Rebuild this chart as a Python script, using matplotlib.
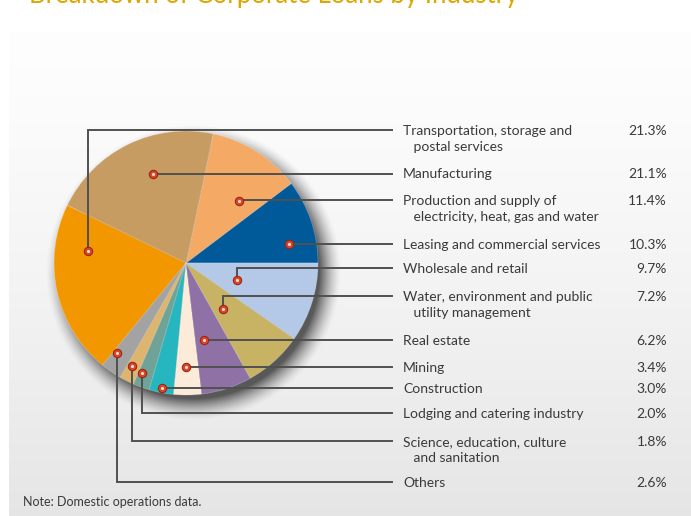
import numpy as np
import matplotlib.pyplot as plt

# chart values, listed in the order of the label column
industries = [
    "Transportation, storage and\n   postal services",
    "Manufacturing",
    "Production and supply of\n   electricity, heat, gas and water",
    "Leasing and commercial services",
    "Wholesale and retail",
    "Water, environment and public\n   utility management",
    "Real estate",
    "Mining",
    "Construction",
    "Lodging and catering industry",
    "Science, education, culture\n   and sanitation",
    "Others",
]
shares = [21.3, 21.1, 11.4, 10.3, 9.7, 7.2, 6.2, 3.4, 3.0, 2.0, 1.8, 2.6]
colors = ["#F39700", "#C69C62", "#F4A964", "#005A9A", "#B3C9E7", "#C8B365",
          "#9071A6", "#FDEBD9", "#26B6BF", "#6FA397", "#DDB56E", "#A3A3A3"]
# order of the wedges, counter-clockwise from 3 o'clock
pie_order = [3, 2, 1, 0, 11, 10, 9, 8, 7, 6, 5, 4]

title = "Breakdown of Corporate Loans by Industry"
note = "Note: Domestic operations data."

# layout (pixels)
W, H = 691, 516
cx, cy, R = 186, 263, 132
# dot placement inside each wedge: (fraction of wedge span, fraction of radius)
dot_pos = [(0.25, 0.75), (0.42, 0.72), (0.30, 0.62), (0.28, 0.79), (0.46, 0.41),
           (0.36, 0.45), (0.27, 0.60), (0.43, 0.79), (0.51, 0.96), (0.22, 0.90),
           (0.37, 0.88), (0.19, 0.86)]
row_y = [130, 173.5, 200, 244, 268, 296, 340, 367, 388, 413, 441, 482]
line_end = 392
text_x = 403
pct_x = 667
txt_col = '#3a3a3a'

plt.rcParams['font.family'] = ['Lato', 'DejaVu Sans']

fig = plt.figure(figsize=(W / 100, H / 100), dpi=100)
ax = fig.add_axes([0, 0, 1, 1])

# grey gradient panel
grad = np.linspace(0, 1, 256)[:, None]
top = np.array([0.995, 0.995, 0.995])
bot = np.array([0.90, 0.90, 0.90])
panel = top + (bot - top) * grad[..., None] ** 1.3
panel = np.repeat(panel, 2, axis=1)
ax.imshow(panel, extent=[9, W, H, 32], aspect='auto', zorder=0)

# soft drop shadow of the pie
gx, gy = np.meshgrid(np.arange(0, 360), np.arange(100, 440))
d = np.hypot(gx - (cx + 7), gy - (cy + 9))
a = np.clip((R + 16 - d) / 22, 0, 1) ** 1.5 * 0.8
shadow = np.zeros(d.shape + (4,))
shadow[..., :3] = 0.2
shadow[..., 3] = a
ax.imshow(shadow, extent=[0, 360, 440, 100], aspect='auto', zorder=1,
          interpolation='bilinear')

wedges, _ = ax.pie([shares[i] for i in pie_order],
                   colors=[colors[i] for i in pie_order],
                   center=(cx, cy), radius=R, startangle=0, counterclock=False,
                   wedgeprops=dict(edgecolor=(1, 1, 1, 0.25), linewidth=0.6))
for w in wedges:
    w.set_zorder(2)

for k, idx in enumerate(pie_order):
    w = wedges[k]
    frac, rf = dot_pos[idx]
    ang = np.deg2rad(w.theta2 - frac * (w.theta2 - w.theta1))
    dx = cx + rf * R * np.cos(ang)
    dy = cy + rf * R * np.sin(ang)
    ry = row_y[idx]
    ax.plot([dx, dx, line_end], [dy, ry, ry], color='#505050', lw=1.4,
            zorder=3, solid_joinstyle='miter')
    ax.plot(dx, dy, 'o', ms=6, mfc='#D9472B', mec='#9E2412', mew=0.8, zorder=4)
    ax.plot(dx, dy, 'o', ms=2.2, mfc='#FFE3D6', mec='none', zorder=5)

    lines = industries[idx].split("\n")
    ax.text(text_x, ry + 1, lines[0], fontsize=10, color=txt_col,
            va='center', ha='left')
    if len(lines) > 1:
        ax.text(text_x, ry + 17, lines[1], fontsize=10, color=txt_col,
                va='center', ha='left')
    ax.text(pct_x, ry + 1, f"{shares[idx]:.1f}%", fontsize=10, color=txt_col,
            va='center', ha='right')

ax.text(23, 502, note, fontsize=9, color=txt_col, va='center', ha='left')
ax.text(29, 3.5, title, fontsize=18.5, color='#DDA600', va='baseline', ha='left')

ax.set_xlim(0, W)
ax.set_ylim(H, 0)
ax.set_aspect('auto')
ax.axis('off')

fig.savefig("out.png", dpi=100)
